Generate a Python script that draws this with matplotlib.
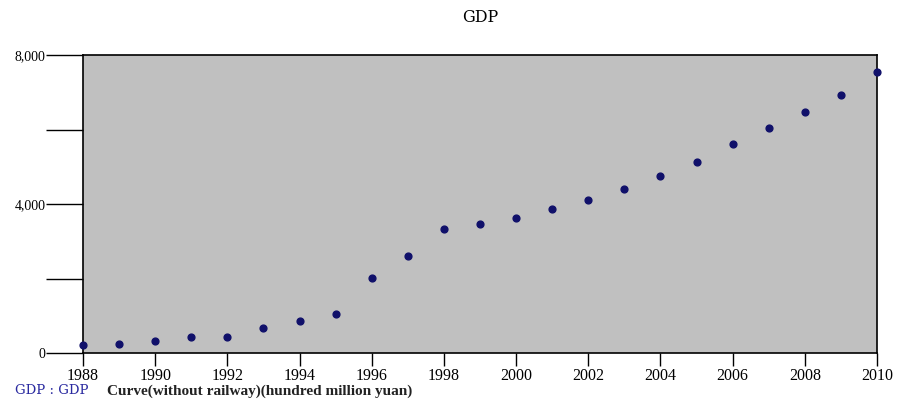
import matplotlib
matplotlib.use("Agg")
import matplotlib.pyplot as plt
from matplotlib.ticker import FuncFormatter

# GDP (hundred million yuan)
years = [1988, 1989, 1990, 1991, 1992, 1993, 1994, 1995, 1996, 1997, 1998, 1999,
         2000, 2001, 2002, 2003, 2004, 2005, 2006, 2007, 2008, 2009, 2010]
gdp = [215, 240, 320, 430, 430, 670, 860, 1050, 2010, 2600, 3330, 3460,
       3620, 3870, 4100, 4400, 4750, 5130, 5610, 6040, 6470, 6930, 7540]

x_ticks = list(range(1988, 2011, 2))
y_ticks = [0, 2000, 4000, 6000, 8000]
y_labeled = [0, 4000, 8000]

fig = plt.figure(figsize=(8.98, 4.09), dpi=100)
ax = fig.add_axes([83 / 898, 56 / 409, 794 / 898, 298 / 409])
ax.set_facecolor("#c0c0c0")

ax.scatter(years, gdp, s=24, color="#10106a", zorder=3, clip_on=False)

ax.set_xlim(1988, 2010)
ax.set_ylim(0, 8000)
ax.set_xticks(x_ticks)
ax.set_yticks(y_ticks)


def yfmt(v, pos):
    if int(v) in y_labeled:
        return "{:,}".format(int(v))
    return ""


ax.yaxis.set_major_formatter(FuncFormatter(yfmt))
ax.tick_params(axis="y", length=27, width=1, pad=0, labelsize=10)
ax.tick_params(axis="x", length=9, width=1, pad=2, labelsize=11.5)
for lab in ax.get_xticklabels() + ax.get_yticklabels():
    lab.set_fontfamily("Liberation Serif")
for s in ax.spines.values():
    s.set_linewidth(1.2)

fig.text(480 / 898, 1 - 18 / 409, "GDP", ha="center", va="center",
         family="DejaVu Serif", fontsize=11.5)
fig.text(15 / 898, 1 - 391 / 409, "GDP : GDP", ha="left", va="center",
         family="DejaVu Serif", fontsize=9.5, color="#2a2aa0")
fig.text(107 / 898, 1 - 391 / 409, "Curve(without railway)(hundred million yuan)",
         ha="left", va="center", family="Liberation Serif", fontsize=11,
         fontweight="bold", color="#222222")

fig.savefig("out.png", dpi=100)
